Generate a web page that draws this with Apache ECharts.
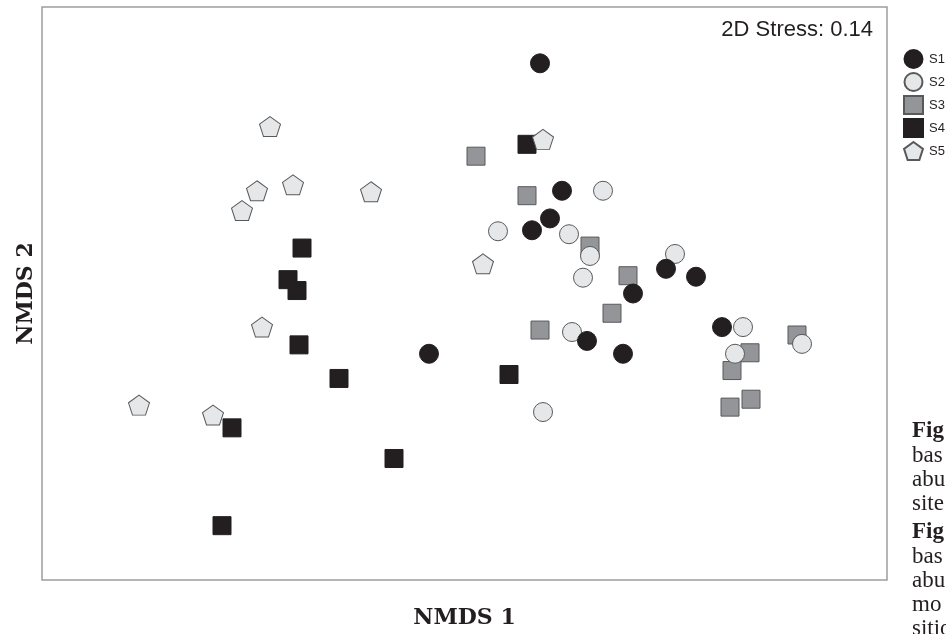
<!DOCTYPE html>
<html>
<head>
<meta charset="utf-8">
<script src="https://cdn.jsdelivr.net/npm/echarts@6/dist/echarts.min.js"></script>
<style>
html,body{margin:0;padding:0;background:#fff;}
#chart{width:946px;height:634px;}
</style>
</head>
<body>
<div id="chart"></div>
<script>
// NMDS ordination scores (arbitrary NMDS units)
var S1 = [[0.302,0.932],[0.39,0.416],[0.342,0.304],[0.27,0.256],[0.806,0.1],[0.926,0.068],[0.674,0.0],[0.49,-0.192],[0.634,-0.244],[-0.142,-0.244],[1.03,-0.136]];
var S2 = [[0.554,0.416],[0.134,0.252],[0.418,0.24],[0.502,0.152],[0.474,0.064],[0.842,0.16],[0.43,-0.156],[1.114,-0.136],[1.35,-0.204],[1.082,-0.244],[0.314,-0.48]];
var S3 = [[0.046,0.556],[0.25,0.396],[0.502,0.192],[0.654,0.072],[0.59,-0.08],[0.302,-0.148],[1.33,-0.168],[1.142,-0.24],[1.07,-0.312],[1.146,-0.428],[1.062,-0.46]];
var S4 = [[0.25,0.604],[-0.65,0.184],[-0.706,0.056],[-0.67,0.012],[-0.662,-0.208],[-0.502,-0.344],[0.178,-0.328],[-0.93,-0.544],[-0.282,-0.668],[-0.97,-0.94]];
var S5 = [[-0.778,0.676],[-0.83,0.416],[-0.686,0.44],[-0.374,0.412],[-0.89,0.336],[-0.81,-0.136],[-1.302,-0.452],[-1.006,-0.492],[0.074,0.12],[0.314,0.624]];
var seriesNames = ['S1','S2','S3','S4','S5'];
var stressText = '2D Stress: 0.14';
var captionLines = ['Fig','bas','abu','site','Fig','bas','abu','mo','sitio'];
var captionBold = [true,false,false,false,true,false,false,false,false];
var captionY = [432,456,480,504,533,557,581,605,629];

var pentagon = 'path://M0,-10 L9.511,-3.09 L5.878,8.09 L-5.878,8.09 L-9.511,-3.09 Z';

var chart = echarts.init(document.getElementById('chart'), null, {renderer:'canvas'});

var graphics = [{
  type:'text', right: 73, top: 19,
  style:{text: stressText, font:'22px "Liberation Sans", Arial, sans-serif', fill:'#231f20'}
}];
captionLines.forEach(function(t,i){
  graphics.push({
    type:'text', left: 912, top: captionY[i]-12,
    style:{text:t, font:(captionBold[i]?'bold ':'')+'23px "Liberation Serif", serif', fill:'#231f20'}
  });
});

function mk(name, data, symbol, size, fill, border, z){
  return {
    name:name, type:'scatter', data:data, symbol:symbol, symbolSize:size, z:z,
    itemStyle:{color:fill, borderColor:border, borderWidth:1, opacity:1},
    emphasis:{disabled:true}
  };
}

chart.setOption({
  animation:false,
  backgroundColor:'#fff',
  grid:{left:42, top:7, width:845, height:580, show:true, borderColor:'#9d9d9d', borderWidth:1.5, backgroundColor:'#fff'},
  xAxis:{type:'value', min:-1.69, max:1.69, axisLine:{show:false}, axisTick:{show:false}, axisLabel:{show:false}, splitLine:{show:false},
    name:'NMDS 1', nameLocation:'middle', nameGap:27,
    nameTextStyle:{fontFamily:'"DejaVu Serif", serif', fontWeight:'bold', fontSize:22, color:'#231f20'}},
  yAxis:{type:'value', min:-1.16, max:1.16, axisLine:{show:false}, axisTick:{show:false}, axisLabel:{show:false}, splitLine:{show:false},
    name:'NMDS 2', nameLocation:'middle', nameGap:5,
    nameTextStyle:{fontFamily:'"DejaVu Serif", serif', fontWeight:'bold', fontSize:22, color:'#231f20'}},
  legend:{
    orient:'vertical', left:898, top:44, itemWidth:19, itemHeight:18, itemGap:3,
    data:seriesNames, selectedMode:false,
    textStyle:{fontFamily:'"Liberation Sans", Arial, sans-serif', fontSize:13, color:'#231f20', padding:[0,0,0,1]}
  },
  graphic:graphics,
  series:[
    mk('S1', S1, 'circle', 19, '#231f20', '#231f20', 4),
    mk('S2', S2, 'circle', 19, '#e6e7e8', '#58595b', 3),
    mk('S3', S3, 'rect', 18, '#939598', '#58595b', 2),
    mk('S4', S4, 'rect', 18, '#231f20', '#231f20', 2),
    mk('S5', S5, pentagon, [21,20], '#e6e7e8', '#58595b', 3)
  ]
});
</script>
</body>
</html>
